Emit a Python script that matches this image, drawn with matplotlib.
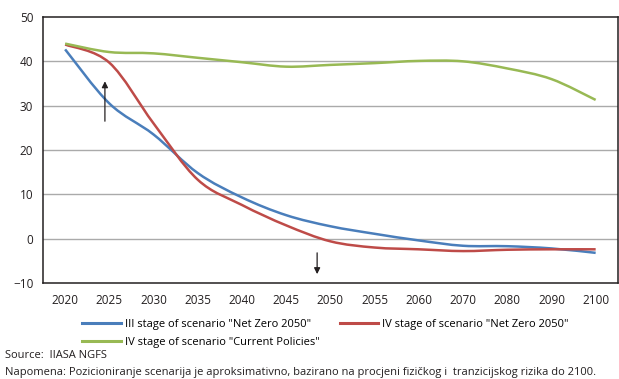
import numpy as np
import matplotlib.pyplot as plt
from matplotlib.path import Path
from matplotlib.patches import PathPatch
from matplotlib.lines import Line2D

plt.rcParams['font.family'] = ['Open Sans', 'DejaVu Sans']

# Data
years = ['2020', '2025', '2030', '2035', '2040', '2045', '2050',
         '2055', '2060', '2070', '2080', '2090', '2100']
net_zero_3 = [42.7, 30.5, 23.5, 14.8, 9.3, 5.3, 2.8, 1.1, -0.4, -1.6, -1.7, -2.2, -3.2]
net_zero_4 = [43.8, 39.7, 26.0, 13.3, 7.6, 3.0, -0.6, -2.0, -2.4, -2.8, -2.5, -2.4, -2.4]
current_pol = [44.0, 42.1, 41.8, 40.8, 39.8, 38.8, 39.2, 39.6, 40.1, 40.0, 38.4, 36.0, 31.3]

labels = ['III stage of scenario "Net Zero 2050"',
          'IV stage of scenario "Net Zero 2050"',
          'IV stage of scenario "Current Policies"']
colors = ['#4a7ebb', '#be4b48', '#98b954']

# arrows (x in category index, y in value units)
arrow_up = (0.9, 26.5, 35.5)
arrow_down = (5.7, -3.2, -8.0)


def smooth_path(xs, ys):
    # Excel-like smoothed line: Catmull-Rom turned into cubic Bezier pieces
    pts = np.column_stack([xs, ys])
    verts = [pts[0]]
    codes = [Path.MOVETO]
    n = len(pts)
    for i in range(n - 1):
        p0 = pts[max(i - 1, 0)]
        p1 = pts[i]
        p2 = pts[i + 1]
        p3 = pts[min(i + 2, n - 1)]
        c1 = p1 + (p2 - p0) / 6.0
        c2 = p2 - (p3 - p1) / 6.0
        verts += [c1, c2, p2]
        codes += [Path.CURVE4] * 3
    return Path(verts, codes)


fig = plt.figure(figsize=(6.19, 3.79), dpi=100)
ax = fig.add_axes([0.0695, 0.2533, 0.9285, 0.7018])

x = np.arange(len(years))
for series, c in zip([net_zero_3, net_zero_4, current_pol], colors):
    patch = PathPatch(smooth_path(x, series), facecolor='none', edgecolor=c,
                      lw=1.8, capstyle='butt', zorder=3)
    ax.add_patch(patch)

ax.set_xlim(-0.5, len(years) - 0.5)
ax.set_ylim(-10, 50)
ax.set_xticks(x)
ax.set_xticklabels(years)
ax.set_yticks(range(-10, 51, 10))
ax.tick_params(length=0, labelsize=8.5, colors='#231f20', pad=7)
ax.tick_params(axis='x', pad=8)
for y in range(0, 50, 10):
    ax.axhline(y, color='#aaaaaa', lw=1.0, zorder=1)
for s in ax.spines.values():
    s.set_color('#231f20')
    s.set_linewidth(1.1)

# arrows
for ax_x, y0, y1 in [arrow_up, arrow_down]:
    ax.annotate('', xy=(ax_x, y1), xytext=(ax_x, y0),
                arrowprops=dict(arrowstyle='-|>', color='#231f20', lw=0.9,
                                mutation_scale=9, shrinkA=0, shrinkB=0))

handles = [Line2D([0], [0], color=c, lw=2.2) for c in colors]
fig.legend(handles[:2], labels[:2], loc='upper left', bbox_to_anchor=(0.133, 0.158),
           ncol=2, frameon=False, fontsize=8, handlelength=3.5,
           columnspacing=2.6, handletextpad=0.3, borderaxespad=0, borderpad=0)
fig.legend(handles[2:], labels[2:], loc='upper left', bbox_to_anchor=(0.133, 0.11),
           frameon=False, fontsize=8, handlelength=3.5, handletextpad=0.3,
           borderaxespad=0, borderpad=0)

fig.text(0.008, 0.062, 'Source:  IIASA NGFS', fontsize=8, color='#231f20', va='center')
fig.text(0.008, 0.018, 'Napomena: Pozicioniranje scenarija je aproksimativno, bazirano na '
         'procjeni fizičkog i  tranzicijskog rizika do 2100.',
         fontsize=8, color='#231f20', va='center')

fig.savefig('out.png', dpi=100)
